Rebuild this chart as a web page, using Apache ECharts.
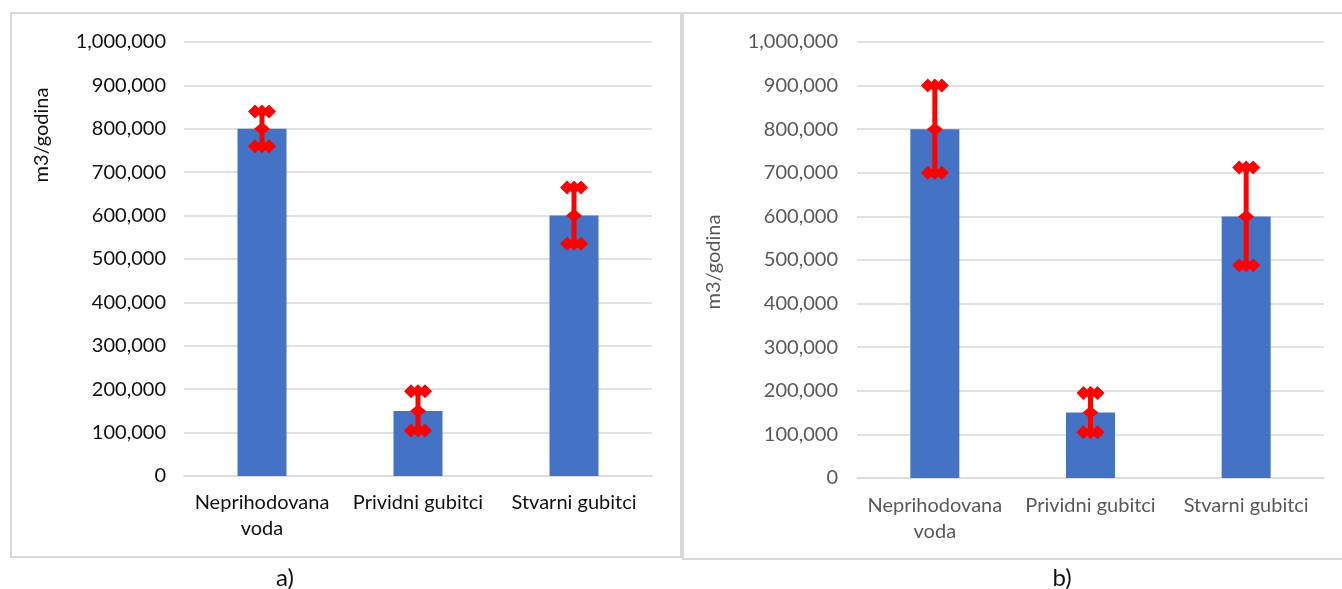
<!DOCTYPE html>
<html>
<head>
<meta charset="utf-8">
<script src="https://cdn.jsdelivr.net/npm/echarts@6.0.0/dist/echarts.min.js"></script>
<style>
  html, body { margin: 0; padding: 0; background: #fff; }
  #chart { width: 1342px; height: 589px; }
</style>
</head>
<body>
<div id="chart"></div>
<script>
// Categories and values (m3/godina)
const categories = ['Neprihodovana voda', 'Prividni gubitci', 'Stvarni gubitci'];
const valuesA = [800000, 150000, 600000];
const errorA = [40000, 45000, 65000];
const valuesB = [800000, 150000, 600000];
const errorB = [100000, 45000, 112000];
const yTicks = { min: 0, max: 1000000, interval: 100000 };
const axisTitle = 'm3/godina';
const panelLabels = ['a)', 'b)'];

const FONT = 'Lato, "Open Sans", sans-serif';
const FS = 20;
const BAR = '#4472C4';
const ERR = '#FF0000';
const GRID_LINE = '#D9D9D9';

function fmt(v) { return v.toLocaleString('en-US'); }

function diamond(cx, cy, w, h) {
  return {
    type: 'polygon',
    shape: { points: [[cx - w / 2, cy], [cx, cy - h / 2], [cx + w / 2, cy], [cx, cy + h / 2]] },
    style: { fill: ERR }
  };
}

// Error bar: vertical stroke, diamond caps at both ends and a diamond at the mean
function renderError(params, api) {
  const x = api.value(0);
  const lo = api.coord([x, api.value(1)]);
  const hi = api.coord([x, api.value(2)]);
  const mid = api.coord([x, api.value(3)]);
  const children = [{
    type: 'line',
    shape: { x1: lo[0], y1: lo[1], x2: hi[0], y2: hi[1] },
    style: { stroke: ERR, lineWidth: 5 }
  }];
  [lo, hi].forEach(p => {
    [-7, 0, 7].forEach(dx => children.push(diamond(p[0] + dx, p[1], 14, 14)));
  });
  children.push(diamond(mid[0], mid[1], 16, 13));
  return { type: 'group', children };
}

function errData(values, errs) {
  return values.map((v, i) => [i, v - errs[i], v + errs[i], v]);
}

function xAxis(gridIndex, color, margin) {
  return {
    type: 'category', gridIndex, data: categories,
    axisTick: { show: false },
    axisLine: { show: true, lineStyle: { color: GRID_LINE, width: 1.5 } },
    axisLabel: {
      color, fontFamily: FONT, fontSize: FS, margin, lineHeight: 26,
      interval: 0,
      formatter: v => v.replace(' voda', '\nvoda')
    }
  };
}

function yAxis(gridIndex, color, margin) {
  return {
    type: 'value', gridIndex,
    min: yTicks.min, max: yTicks.max, interval: yTicks.interval,
    axisLine: { show: false }, axisTick: { show: false },
    splitLine: { lineStyle: { color: GRID_LINE, width: 1.5 } },
    axisLabel: { color, fontFamily: FONT, fontSize: FS, margin, formatter: fmt }
  };
}

const chart = echarts.init(document.getElementById('chart'), null, { renderer: 'canvas' });

chart.setOption({
  animation: false,
  backgroundColor: '#fff',
  grid: [
    { left: 184, right: 690, top: 42, bottom: 113 },
    { left: 857, right: 18, top: 42, bottom: 111 }
  ],
  xAxis: [xAxis(0, '#111', 14), xAxis(1, '#595959', 15)],
  yAxis: [yAxis(0, '#111', 18), yAxis(1, '#595959', 19)],
  series: [
    { type: 'bar', xAxisIndex: 0, yAxisIndex: 0, data: valuesA, barWidth: 49,
      itemStyle: { color: BAR }, z: 2 },
    { type: 'custom', xAxisIndex: 0, yAxisIndex: 0, data: errData(valuesA, errorA),
      renderItem: renderError, encode: { x: 0, y: [1, 2] }, z: 5 },
    { type: 'bar', xAxisIndex: 1, yAxisIndex: 1, data: valuesB, barWidth: 49,
      itemStyle: { color: BAR }, z: 2 },
    { type: 'custom', xAxisIndex: 1, yAxisIndex: 1, data: errData(valuesB, errorB),
      renderItem: renderError, encode: { x: 0, y: [1, 2] }, z: 5 }
  ],
  graphic: [
    // panel frames
    { type: 'rect', shape: { x: 11, y: 13, width: 670, height: 544 },
      style: { fill: 'none', stroke: GRID_LINE, lineWidth: 2 }, z: -1 },
    { type: 'rect', shape: { x: 683, y: 13, width: 670, height: 546 },
      style: { fill: 'none', stroke: GRID_LINE, lineWidth: 2 }, z: -1 },
    // axis titles
    { type: 'text', x: 42, y: 135, rotation: Math.PI / 2,
      style: { text: axisTitle, fill: '#111', font: FS + 'px ' + FONT, textAlign: 'center', textVerticalAlign: 'middle' } },
    { type: 'text', x: 714, y: 262, rotation: Math.PI / 2,
      style: { text: axisTitle, fill: '#595959', font: FS + 'px ' + FONT, textAlign: 'center', textVerticalAlign: 'middle' } },
    // panel captions
    { type: 'text', x: 285, y: 578,
      style: { text: panelLabels[0], fill: '#111', font: '24px ' + FONT, textAlign: 'center', textVerticalAlign: 'middle' } },
    { type: 'text', x: 1062, y: 578,
      style: { text: panelLabels[1], fill: '#111', font: '24px ' + FONT, textAlign: 'center', textVerticalAlign: 'middle' } }
  ]
});
</script>
</body>
</html>
